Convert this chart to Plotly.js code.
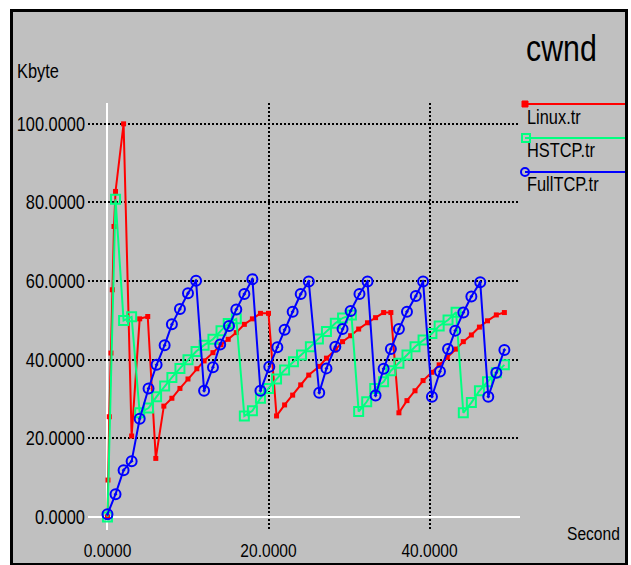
<!DOCTYPE html>
<html>
<head>
<meta charset="utf-8">
<script src="https://cdn.plot.ly/plotly-3.0.1.min.js"></script>
<style>
  html, body { margin: 0; padding: 0; background: #ffffff; width: 631px; height: 565px; overflow: hidden; }
  #frame { position: absolute; left: 10px; top: 9px; width: 612px; height: 551px; border: 3px solid #000; background: #c0c0c0; }
  #chart { width: 612px; height: 551px; }
</style>
</head>
<body>
<div id="frame"><div id="chart"></div></div>
<script>
// ---- data ----
const linuxX = [0, 0.06, 0.22, 0.43, 0.60, 0.81, 1.0, 2.0, 3.0, 4.0, 5.0, 6.0, 7.0, 8.0, 9.0, 10.0,
  11.1, 12.0, 13.1, 14.1, 15.0, 16.0, 17.0, 18.0, 19.0, 20.0, 21.0, 22.0, 23.0, 24.0, 25.0,
  26.3, 27.2, 28.3, 29.2, 30.2, 31.2, 32.3, 33.3, 34.3, 35.2, 36.2, 37.2, 38.2, 39.2, 40.3,
  41.2, 42.2, 43.3, 44.2, 45.2, 46.2, 47.2, 48.3, 49.3];
const linuxY = [0, 9.4, 25.5, 41.7, 57.8, 73.9, 82.8, 100, 20.6, 50.4, 51.0, 14.9, 28.2, 30.2, 32.7, 35.1,
  37.7, 39.7, 41.8, 43.8, 45.2, 46.9, 49.0, 50.4, 51.8, 51.8, 25.7, 28.5, 31.0, 33.6, 36.1,
  38.3, 40.4, 42.5, 44.6, 46.1, 47.8, 49.4, 50.7, 52.0, 52.0, 26.5, 29.6, 32.1, 34.7, 36.8,
  38.7, 40.6, 42.7, 44.6, 46.3, 48.3, 49.9, 51.4, 52.0];

const hstcpX = [0, 1.0, 2.0, 3.0, 4.0, 5.1, 6.1, 7.1, 8.0, 9.0, 10.0, 11.0, 12.0, 13.1, 14.1, 15.0, 16.0,
  17.0, 18.0, 19.0, 20.0, 21.0, 22.0, 23.1, 24.1, 25.2, 26.2, 27.2, 28.3, 29.2, 30.3,
  31.2, 32.2, 33.2, 34.3, 35.2, 36.2, 37.2, 38.2, 39.2, 40.3, 41.2, 42.3, 43.3,
  44.2, 45.2, 46.2, 47.2, 48.3, 49.3];
const hstcpY = [0, 80.8, 50.0, 50.9, 26.5, 27.7, 30.6, 33.3, 35.5, 37.8, 40.0, 42.1, 43.7, 45.2, 47.4, 49.2, 50.4,
  25.7, 27.0, 30.2, 32.7, 35.1, 37.4, 39.5, 41.2, 43.3, 45.3, 47.2, 49.3, 50.6, 51.4,
  26.8, 29.3, 32.7, 34.4, 37.2, 39.1, 41.2, 43.3, 45.0, 46.7, 48.6, 50.1, 52.1,
  26.5, 29.1, 32.1, 34.4, 36.7, 38.7];

const fullX = [0, 1.0, 2.0, 3.0, 4.0, 5.1, 6.1, 7.1, 8.0, 9.0, 10.0, 11.0,
  12.0, 13.1, 14.0, 15.1, 16.0, 17.0, 18.0,
  19.0, 20.1, 21.1, 22.0, 23.0, 24.0, 25.0,
  26.3, 27.2, 28.3, 29.2, 30.2, 31.3, 32.3,
  33.3, 34.3, 35.2, 36.2, 37.2, 38.3, 39.2,
  40.3, 41.3, 42.3, 43.2, 44.2, 45.2, 46.3,
  47.3, 48.3, 49.3];
const fullY = [0.7, 5.8, 11.9, 14.2, 25.0, 32.7, 38.7, 43.7, 49.0, 52.9, 56.9, 60.1,
  32.1, 38.1, 43.9, 48.6, 52.8, 56.7, 60.5,
  32.1, 38.2, 43.2, 47.6, 52.2, 56.7, 59.9,
  31.6, 37.8, 43.3, 47.8, 52.4, 56.7, 59.9,
  30.9, 37.7, 42.7, 47.8, 52.2, 56.2, 59.9,
  30.6, 37.0, 42.7, 47.4, 52.0, 56.1, 59.7,
  30.6, 36.7, 42.5];

const seriesNames = ["Linux.tr", "HSTCP.tr", "FullTCP.tr"];
const xTicks = [0, 20, 40];
const yTicks = [0, 20, 40, 60, 80, 100];
const chartTitle = "cwnd";
const yUnit = "Kbyte";
const xUnit = "Second";

// ---- layout helpers (page pixels -> paper coords) ----
const FX = 13, FY = 12;                  // inner frame origin on page
const W = 612, H = 551;                  // inner frame size
const L = 88, R = 520, T = 103, B = 530; // plot area on page
const px = p => (p - L) / (R - L);
const py = p => (B - p) / (B - T);

const FONT = "Liberation Sans, Arial, sans-serif";
const NARROW = 0.82; // horizontal squeeze to mimic the condensed bitmap font
const RED = "#ff0000", GREEN = "#00ff80", BLUE = "#0000ff";

const traces = [
  { x: linuxX, y: linuxY, name: seriesNames[0], mode: "lines+markers",
    line: { color: RED, width: 2 }, marker: { symbol: "square", size: 5, color: RED } },
  { x: hstcpX, y: hstcpY, name: seriesNames[1], mode: "lines+markers",
    line: { color: GREEN, width: 2 },
    marker: { symbol: "square-open", size: 9, color: GREEN, line: { width: 2, color: GREEN } } },
  { x: fullX, y: fullY, name: seriesNames[2], mode: "lines+markers",
    line: { color: BLUE, width: 2 },
    marker: { symbol: "circle-open-dot", size: 10, color: BLUE, line: { width: 2, color: BLUE } } }
];

const legendY = [104, 138, 172];
const legendTextY = [117, 150, 184];
const colors = [RED, GREEN, BLUE];
const shapes = [];
const annotations = [];
seriesNames.forEach((n, i) => {
  shapes.push({ type: "line", xref: "paper", yref: "paper", x0: px(525), x1: px(625), y0: py(legendY[i]), y1: py(legendY[i]),
    line: { color: colors[i], width: 2 } });
  annotations.push({ text: n, xref: "paper", yref: "paper", x: px(525), y: py(legendTextY[i]), align: "left",
    xanchor: "left", yanchor: "middle", showarrow: false, font: { family: FONT, size: 20, color: "#000" } });
});
// legend marker glyphs
shapes.push({ type: "rect", xref: "paper", yref: "paper", x0: px(522), x1: px(528), y0: py(101), y1: py(107),
  fillcolor: RED, line: { color: RED, width: 1 } });
shapes.push({ type: "rect", xref: "paper", yref: "paper", x0: px(522), x1: px(530), y0: py(134), y1: py(142),
  fillcolor: "rgba(0,0,0,0)", line: { color: GREEN, width: 2 } });
shapes.push({ type: "circle", xref: "paper", yref: "paper", x0: px(521), x1: px(529), y0: py(168), y1: py(176),
  fillcolor: "rgba(0,0,0,0)", line: { color: BLUE, width: 2 } });

annotations.push({ text: chartTitle, xref: "paper", yref: "paper", x: px(524), y: py(48), align: "left",
  xanchor: "left", yanchor: "middle", showarrow: false, font: { family: FONT, size: 37, color: "#000" } });
annotations.push({ text: yUnit, xref: "paper", yref: "paper", x: px(15), y: py(71), align: "left",
  xanchor: "left", yanchor: "middle", showarrow: false, font: { family: FONT, size: 20, color: "#000" } });
annotations.push({ text: xUnit, xref: "paper", yref: "paper", x: px(565), y: py(533), align: "left",
  xanchor: "left", yanchor: "middle", showarrow: false, font: { family: FONT, size: 19, color: "#000" } });

const layout = {
  width: W, height: H,
  margin: { l: L - FX, r: W - (R - FX), t: T - FY, b: H - (B - FY), pad: 0 },
  paper_bgcolor: "#c0c0c0", plot_bgcolor: "#c0c0c0",
  showlegend: false,
  font: { family: FONT, size: 20, color: "#000" },
  xaxis: {
    range: [-2.42, 51.24], tickvals: xTicks, tickformat: ".4f",
    showgrid: true, gridcolor: "#000", gridwidth: 2, griddash: "2px,2px",
    zeroline: true, zerolinecolor: "#ffffff", zerolinewidth: 2,
    showline: false, ticks: "", ticklabelstandoff: 7,
    tickfont: { family: FONT, size: 19, color: "#000" }
  },
  yaxis: {
    range: [-3.31, 105.3], tickvals: yTicks, tickformat: ".4f",
    showgrid: true, gridcolor: "#000", gridwidth: 2, griddash: "2px,2px",
    zeroline: true, zerolinecolor: "#ffffff", zerolinewidth: 2,
    showline: false, ticks: "", ticklabelstandoff: 2,
    tickfont: { family: FONT, size: 20, color: "#000" }
  },
  shapes: shapes,
  annotations: annotations
};

Plotly.newPlot("chart", traces, layout, { displayModeBar: false, staticPlot: true }).then(() => {
  document.querySelectorAll("#chart svg text").forEach(t => {
    const x = parseFloat(t.getAttribute("x")) || 0;
    const y = parseFloat(t.getAttribute("y")) || 0;
    const tr = t.getAttribute("transform") || "";
    t.setAttribute("transform", tr + " translate(" + x + "," + y + ") scale(" + NARROW + ",1) translate(" + (-x) + "," + (-y) + ")");
  });
});
</script>
</body>
</html>
